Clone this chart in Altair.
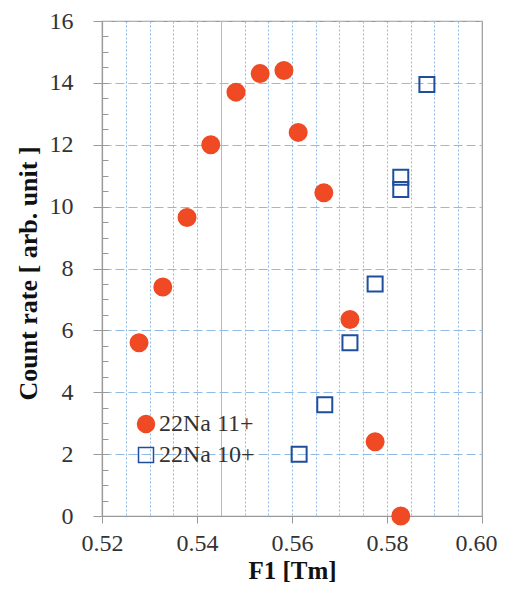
import altair as alt
import pandas as pd

# Data
f1_11 = [0.5278, 0.5328, 0.5379, 0.5429, 0.5482, 0.5533, 0.5583, 0.5613, 0.5667, 0.5722, 0.5775, 0.5829]
rate_11 = [5.6, 7.4, 9.65, 12.0, 13.7, 14.3, 14.4, 12.4, 10.45, 6.35, 2.4, 0.0]
f1_10 = [0.5615, 0.5669, 0.5722, 0.5775, 0.5829, 0.5829, 0.5884]
rate_10 = [2.0, 3.6, 5.6, 7.5, 10.55, 10.95, 13.95]
series_names = ["22Na 11+", "22Na 10+"]

x_major = [0.52, 0.54, 0.56, 0.58, 0.60]
x_minor = [0.525, 0.53, 0.535, 0.54, 0.545, 0.55, 0.555, 0.56, 0.565, 0.57,
           0.575, 0.58, 0.585, 0.59, 0.595]
y_major = [0, 2, 4, 6, 8, 10, 12, 14, 16]
y_minor = [0.5, 1, 1.5, 2, 2.5, 3, 3.5, 4, 4.5, 5, 5.5, 6, 6.5, 7, 7.5, 8, 8.5, 9,
           9.5, 10, 10.5, 11, 11.5, 12, 12.5, 13, 13.5, 14, 14.5, 15, 15.5]

df = pd.DataFrame({
    "f1": f1_11 + f1_10,
    "rate": rate_11 + rate_10,
    "series": [series_names[0]] * len(f1_11) + [series_names[1]] * len(f1_10),
})

RED = "#ef4a24"
BLUE = "#1f4e9e"
FONT = "Liberation Serif"

x_scale = alt.Scale(domain=[0.52, 0.60], nice=False, zero=False)
y_scale = alt.Scale(domain=[0, 16], nice=False, zero=False)

legend = alt.Legend(title=None, orient="none", legendX=32, legendY=391,
                    padding=0, symbolSize=160, symbolStrokeWidth=1.5,
                    labelFontSize=24, labelFont=FONT, labelColor="#333333",
                    labelOffset=1, rowPadding=7)

grid_layer = alt.Chart(df).mark_point(opacity=0).encode(
    x=alt.X("f1:Q", scale=x_scale, axis=alt.Axis(
        values=x_minor, grid=True,
        gridDash=alt.condition("datum.value == 0.545", alt.value([1, 0]), alt.value([2, 2])),
        gridColor=alt.condition("datum.value == 0.545", alt.value("#7aa8dc"), alt.value("#8fbbe6")),
        gridWidth=1, labels=False, ticks=False, domain=False, title=None,
        orient="bottom")),
    y=alt.Y("rate:Q", scale=y_scale, axis=alt.Axis(
        values=y_minor, grid=False, labels=False, ticks=True, tickSize=6,
        tickColor="#999999", offset=-6, domain=False, title=None, orient="left")),
)

points = alt.Chart(df).mark_point(strokeWidth=2, opacity=1).encode(
    x=alt.X("f1:Q", scale=x_scale, axis=alt.Axis(
        values=x_major, format=".2f", grid=False, title="F1 [Tm]",
        tickSize=7, labelPadding=8, labelFlush=False,
        labelOffset=alt.condition("datum.value >= 0.599", alt.value(-6), alt.value(0)),
        titleY=62, titleFontSize=25, titleBaseline="alphabetic", orient="bottom")),
    y=alt.Y("rate:Q", scale=y_scale, axis=alt.Axis(
        values=y_major, format="d", grid=True, gridDash=[9, 4],
        gridColor="#8fbbe6", gridWidth=1.2, tickSize=9, labelPadding=20,
        labelFlush=False, title="Count rate [ arb. unit ]", titleX=-74,
        titleY=252, titleBaseline="middle", orient="left")),
    shape=alt.Shape("series:N", scale=alt.Scale(domain=series_names, range=["circle", "square"]),
                    legend=legend),
    color=alt.Color("series:N", scale=alt.Scale(domain=series_names, range=[RED, BLUE]),
                    legend=legend),
    fill=alt.Fill("series:N", scale=alt.Scale(domain=series_names, range=[RED, "transparent"]),
                  legend=legend),
    size=alt.Size("series:N", scale=alt.Scale(domain=series_names, range=[289, 225]), legend=None),
)

chart = alt.layer(grid_layer, points).resolve_axis(
    x="independent", y="independent"
).properties(
    width=380, height=495,
    autosize=alt.AutoSizeParams(type="none"),
    padding={"left": 94, "top": 13, "right": 16, "bottom": 67},
).configure_view(
    stroke="#999999", strokeWidth=1.2
).configure_axis(
    labelFont=FONT, labelFontSize=24, labelColor="#333333",
    titleFont=FONT, titleFontSize=26, titleFontWeight="bold", titleColor="#111111",
    domainColor="#999999", tickColor="#999999", domainWidth=1.2,
).configure_legend(
    labelFont=FONT, labelFontSize=24, labelColor="#333333",
)

chart.save("out.html", embed_options={"renderer": "svg", "actions": False})
